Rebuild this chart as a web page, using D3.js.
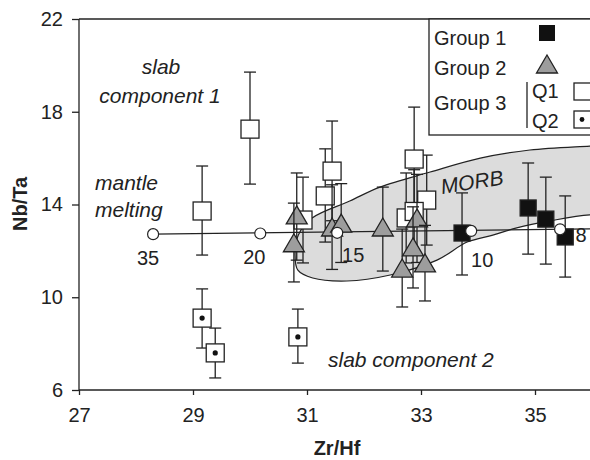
<!DOCTYPE html>
<html><head><meta charset="utf-8">
<script src="https://cdn.jsdelivr.net/npm/d3@7"></script>
<style>
html,body{margin:0;padding:0;background:#fff;}
text{font-family:"Liberation Sans",Arial,sans-serif;fill:#222;}
</style></head>
<body><svg id="c" width="590" height="460"></svg>
<script>
// ---- data ----
const xTicks = [27, 29, 31, 33, 35];
const yTicks = [6, 10, 14, 18, 22];

const g1X  = [33.72, 34.88, 35.19, 35.53];
const g1Y  = [12.77, 13.85, 13.37, 12.60];
const g1Hi = [14.50, 15.79, 15.18, 14.37];
const g1Lo = [10.96, 11.86, 11.43, 10.87];

const g2X  = [30.82, 30.77, 31.44, 31.60, 32.33, 32.93, 32.86, 32.67, 33.07];
const g2Y  = [13.55, 12.35, 13.03, 13.20, 13.03, 13.42, 12.17, 11.26, 11.48];
const g2Hi = [15.36, 14.06, 14.85, 14.90, 14.75, 15.30, 13.90, 12.94, 13.10];
const g2Lo = [11.60, 10.66, 11.20, 11.50, 11.13, 11.50, 10.40, 9.58, 9.84];

const q1X  = [29.16, 30.00, 31.44, 31.32, 30.93, 32.88, 33.10, 32.74, 32.88];
const q1Y  = [13.72, 17.25, 15.44, 14.37, 13.33, 15.96, 14.19, 13.42, 13.70];
const q1Hi = [15.66, 19.71, 17.60, 16.40, 15.18, 18.20, 16.13, 15.36, 15.50];
const q1Lo = [11.82, 14.88, 13.30, 12.38, 11.48, 13.70, 12.25, 11.48, 11.90];

const q2X  = [29.16, 29.39, 30.84];
const q2Y  = [9.10, 7.60, 8.29];
const q2Hi = [10.36, 8.67, 9.49];
const q2Lo = [7.81, 6.52, 7.16];

const modelX = [28.30, 30.18, 31.53, 33.88, 35.44];
const modelY = [12.72, 12.75, 12.78, 12.86, 12.93];
const modelLabels = ["35", "20", "15", "10", "8"];
const modelEndX = 36.0, modelEndY = 12.95;

// MORB field outline (upper boundary left->right, then lower boundary right->left)
const morbX = [31.09, 31.75, 32.28, 33.16, 34.04, 34.91, 35.96, 36.6, 36.6, 35.96, 35.26, 34.68, 34.26, 33.81, 33.28, 32.46, 31.70, 31.10, 30.84, 30.79, 30.85];
const morbY = [13.42, 14.15, 14.75, 15.40, 16.00, 16.35, 16.52, 16.6, 13.5, 13.55, 13.29, 12.99, 12.68, 12.38, 11.60, 10.96, 10.70, 10.83, 11.17, 11.85, 12.70];

const legendLabels = ["Group 1", "Group 2", "Group 3"];
const legendSub = ["Q1", "Q2"];

// ---- scales ----
const svg = d3.select("#c");
const x = d3.scaleLinear().domain([27, 36]).range([79, 592]);
const y = d3.scaleLinear().domain([6, 22]).range([390, 19]);

svg.append("defs").append("clipPath").attr("id", "clip")
  .append("rect").attr("x", 79).attr("y", 19).attr("width", 520).attr("height", 371);

const plot = svg.append("g").attr("clip-path", "url(#clip)");

// MORB field
const morbPts = morbX.map((d, i) => [x(d), y(morbY[i])]);
plot.append("path")
  .attr("d", d3.line().curve(d3.curveCatmullRomClosed.alpha(0.5))(morbPts))
  .attr("fill", "#dcdcdc").attr("stroke", "#222").attr("stroke-width", 1.2);

plot.append("text").attr("transform", `translate(${x(33.37)},${y(14.45)}) rotate(-9)`)
  .attr("font-size", 21).attr("font-style", "italic").text("MORB");

// model line
const lineStroke = 1.2;
plot.append("line")
  .attr("x1", x(modelX[0])).attr("y1", y(modelY[0]))
  .attr("x2", x(modelEndX)).attr("y2", y(modelEndY))
  .attr("stroke", "#222").attr("stroke-width", lineStroke);

function errBars(g, xs, ys, his, los) {
  xs.forEach((d, i) => {
    const cx = x(d), t = y(his[i]), b = y(los[i]);
    g.append("line").attr("x1", cx).attr("x2", cx).attr("y1", t).attr("y2", b);
    g.append("line").attr("x1", cx - 6).attr("x2", cx + 6).attr("y1", t).attr("y2", t);
    g.append("line").attr("x1", cx - 6).attr("x2", cx + 6).attr("y1", b).attr("y2", b);
  });
}
function layer() {
  return plot.append("g").attr("stroke", "#222").attr("stroke-width", 1.3);
}

// Group 3 Q1
let g = layer();
errBars(g, q1X, q1Y, q1Hi, q1Lo);
q1X.forEach((d, i) => g.append("rect").attr("x", x(d) - 9).attr("y", y(q1Y[i]) - 9)
  .attr("width", 18).attr("height", 18).attr("fill", "#fff"));

// Group 3 Q2
g = layer();
errBars(g, q2X, q2Y, q2Hi, q2Lo);
q2X.forEach((d, i) => {
  g.append("rect").attr("x", x(d) - 9).attr("y", y(q2Y[i]) - 9)
    .attr("width", 18).attr("height", 18).attr("fill", "#fff");
  g.append("circle").attr("cx", x(d)).attr("cy", y(q2Y[i])).attr("r", 2.6)
    .attr("fill", "#111").attr("stroke", "none");
});

// Group 2 triangles
const tri = (cx, cy, w, h) => `M${cx},${cy - h / 2}L${cx + w / 2},${cy + h / 2}L${cx - w / 2},${cy + h / 2}Z`;
g = layer();
g2X.forEach((d, i) => {
  errBars(g, [d], [g2Y[i]], [g2Hi[i]], [g2Lo[i]]);
  g.append("path").attr("d", tri(x(d), y(g2Y[i]), 21, 18)).attr("fill", "#9d9d9d");
});

// Group 1 black squares
g = layer();
g1X.forEach((d, i) => {
  errBars(g, [d], [g1Y[i]], [g1Hi[i]], [g1Lo[i]]);
  g.append("rect").attr("x", x(d) - 8).attr("y", y(g1Y[i]) - 8)
    .attr("width", 16).attr("height", 16).attr("fill", "#111");
});

// model circles
plot.append("g").selectAll("circle").data(modelX).join("circle")
  .attr("cx", d => x(d)).attr("cy", (d, i) => y(modelY[i])).attr("r", 5.5)
  .attr("fill", "#fff").attr("stroke", "#222").attr("stroke-width", 1.2);

const lblOff = [[-5, 31], [-6, 31], [16, 29], [11, 36], [21, 13]];
svg.append("g").selectAll("text").data(modelLabels).join("text")
  .attr("x", (d, i) => x(modelX[i]) + lblOff[i][0])
  .attr("y", (d, i) => y(modelY[i]) + lblOff[i][1])
  .attr("text-anchor", "middle").attr("font-size", 20).text(d => d);

// annotations
const ann = svg.append("g").attr("font-size", 21).attr("font-style", "italic");
ann.append("text").attr("x", 161).attr("y", 74).attr("text-anchor", "middle").text("slab");
ann.append("text").attr("x", 160).attr("y", 103).attr("text-anchor", "middle").text("component 1");
ann.append("text").attr("x", 95).attr("y", 190).text("mantle");
ann.append("text").attr("x", 95).attr("y", 217).text("melting");
ann.append("text").attr("x", 328).attr("y", 367).text("slab component 2");

// axes
const ax = svg.append("g").attr("transform", "translate(0,390)")
  .call(d3.axisBottom(x).tickValues(xTicks).tickSize(5).tickPadding(13).tickFormat(d3.format("d")));
const ay = svg.append("g").attr("transform", "translate(79,0)")
  .call(d3.axisLeft(y).tickValues(yTicks).tickSize(7).tickPadding(9).tickFormat(d3.format("d")));
[ax, ay].forEach(a => {
  a.select(".domain").attr("stroke", "#222").attr("stroke-width", 1.3);
  a.selectAll(".tick line").attr("stroke", "#222").attr("stroke-width", 1.3);
  a.selectAll("text").attr("font-size", 20).attr("fill", "#222")
    .attr("font-family", "Liberation Sans, Arial, sans-serif");
});
ax.select(".domain").attr("d", "M79,0H590");
ay.select(".domain").attr("d", "M0,390V19");
svg.append("line").attr("x1", 79).attr("x2", 590).attr("y1", 19).attr("y2", 19)
  .attr("stroke", "#222").attr("stroke-width", 1.3);

svg.append("text").attr("x", 337).attr("y", 455).attr("text-anchor", "middle")
  .attr("font-size", 20).attr("font-weight", "bold").text("Zr/Hf");
svg.append("text").attr("transform", "translate(27,204) rotate(-90)").attr("text-anchor", "middle")
  .attr("font-size", 20).attr("font-weight", "bold").text("Nb/Ta");

// legend
const lg = svg.append("g");
lg.append("rect").attr("x", 429).attr("y", 19).attr("width", 170).attr("height", 116)
  .attr("fill", "#fff").attr("stroke", "#222").attr("stroke-width", 1.3);
[45, 75, 110].forEach((yy, i) => lg.append("text").attr("x", 434).attr("y", yy)
  .attr("font-size", 20).text(legendLabels[i]));
lg.append("rect").attr("x", 539).attr("y", 25).attr("width", 16).attr("height", 16).attr("fill", "#111");
lg.append("path").attr("d", tri(547, 64, 21, 18)).attr("fill", "#9d9d9d").attr("stroke", "#222").attr("stroke-width", 1.3);
lg.append("line").attr("x1", 527).attr("x2", 527).attr("y1", 82).attr("y2", 128).attr("stroke", "#222").attr("stroke-width", 1.3);
[98, 128].forEach((yy, i) => lg.append("text").attr("x", 532).attr("y", yy)
  .attr("font-size", 20).text(legendSub[i]));
lg.append("rect").attr("x", 574).attr("y", 83).attr("width", 17).attr("height", 17)
  .attr("fill", "#fff").attr("stroke", "#222").attr("stroke-width", 1.3);
lg.append("rect").attr("x", 574).attr("y", 111).attr("width", 17).attr("height", 17)
  .attr("fill", "#fff").attr("stroke", "#222").attr("stroke-width", 1.3);
lg.append("circle").attr("cx", 582).attr("cy", 119.5).attr("r", 2.4).attr("fill", "#111");
</script></body></html>
